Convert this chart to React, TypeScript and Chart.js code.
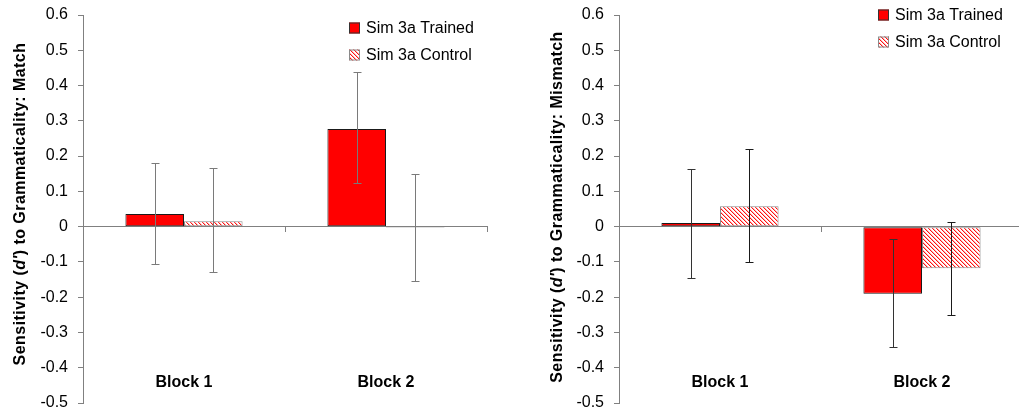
import React, { useEffect, useRef } from 'react';
import { Chart, registerables } from 'chart.js';

Chart.register(...registerables);

// ---------- data ----------
const categories = ['Block 1', 'Block 2'];
const seriesNames = ['Sim 3a Trained', 'Sim 3a Control'];
const yTicks = [-0.5, -0.4, -0.3, -0.2, -0.1, 0, 0.1, 0.2, 0.3, 0.4, 0.5, 0.6];

const matchTrained = [0.036, 0.277];
const matchTrainedHigh = [0.179, 0.437];
const matchTrainedLow = [-0.105, 0.124];
const matchControl = [0.015, -0.003];
const matchControlHigh = [0.166, 0.150];
const matchControlLow = [-0.129, -0.154];

const mismatchTrained = [0.010, -0.190];
const mismatchTrainedHigh = [0.163, -0.036];
const mismatchTrainedLow = [-0.145, -0.342];
const mismatchControl = [0.058, -0.118];
const mismatchControlHigh = [0.220, 0.013];
const mismatchControlLow = [-0.100, -0.250];

const titleMatch = [
  { text: 'Sensitivity (', italic: false },
  { text: "d'", italic: true },
  { text: ') to Grammaticality: Match', italic: false },
];
const titleMismatch = [
  { text: 'Sensitivity (', italic: false },
  { text: "d'", italic: true },
  { text: ') to Grammaticality: Mismatch', italic: false },
];

const FONT = '"Liberation Sans", Arial, sans-serif';

function makeHatch(): CanvasPattern | string {
  const c = document.createElement('canvas');
  c.width = 4;
  c.height = 4;
  const g = c.getContext('2d');
  if (!g) return '#ff9999';
  g.fillStyle = '#ffffff';
  g.fillRect(0, 0, 4, 4);
  for (let i = 0; i < 4; i++) {
    g.fillStyle = '#ff1010';
    g.fillRect(i, i, 1, 1);
    g.fillStyle = '#ffb4b4';
    g.fillRect((i + 1) % 4, i, 1, 1);
  }
  return g.createPattern(c, 'repeat') || '#ff9999';
}

const yTitlePlugin = {
  id: 'yTitleRich',
  afterDraw(chart: any, _args: any, opts: any) {
    if (!opts || !opts.parts) return;
    const ctx = chart.ctx as CanvasRenderingContext2D;
    ctx.save();
    (ctx as any).letterSpacing = opts.spacing || '0px';
    ctx.fillStyle = '#000';
    ctx.textBaseline = 'middle';
    ctx.textAlign = 'left';
    const fontFor = (it: boolean) => `${it ? 'italic ' : ''}bold ${opts.size}px ${FONT}`;
    let total = 0;
    const widths: number[] = [];
    for (const p of opts.parts) {
      ctx.font = fontFor(p.italic);
      const w = ctx.measureText(p.text).width;
      widths.push(w);
      total += w;
    }
    ctx.translate(opts.x, opts.cy);
    ctx.rotate(-Math.PI / 2);
    let x = -total / 2;
    opts.parts.forEach((p: any, i: number) => {
      ctx.font = fontFor(p.italic);
      ctx.fillText(p.text, x, 0);
      x += widths[i];
    });
    ctx.restore();
  },
};

const legendPlugin = {
  id: 'customLegend',
  afterDraw(chart: any, _args: any, opts: any) {
    if (!opts || !opts.items) return;
    const ctx = chart.ctx as CanvasRenderingContext2D;
    ctx.save();
    ctx.font = `16px ${FONT}`;
    ctx.textBaseline = 'middle';
    ctx.textAlign = 'left';
    opts.items.forEach((it: any, i: number) => {
      const cy = opts.y + i * opts.gap;
      const bx = opts.x;
      const s = 11;
      ctx.fillStyle = it.fill;
      ctx.fillRect(bx, cy - s / 2, s, s);
      ctx.strokeStyle = it.border;
      ctx.lineWidth = 1;
      ctx.strokeRect(bx + 0.5, cy - s / 2 + 0.5, s - 1, s - 1);
      ctx.fillStyle = '#000';
      ctx.fillText(it.label, bx + 17, cy + 1);
    });
    ctx.restore();
  },
};

const errorBarPlugin = {
  id: 'errorBars',
  afterDatasetsDraw(chart: any, _args: any, opts: any) {
    if (!opts || !opts.high) return;
    const ctx = chart.ctx as CanvasRenderingContext2D;
    const yScale = chart.scales.y;
    ctx.save();
    ctx.lineWidth = 1;
    chart.data.datasets.forEach((_ds: any, di: number) => {
      const meta = chart.getDatasetMeta(di);
      ctx.strokeStyle = opts.colors[di];
      meta.data.forEach((el: any, j: number) => {
        const x = Math.round(el.x) + 0.5;
        const yh = Math.round(yScale.getPixelForValue(opts.high[di][j])) + 0.5;
        const yl = Math.round(yScale.getPixelForValue(opts.low[di][j])) + 0.5;
        ctx.beginPath();
        ctx.moveTo(x, yh);
        ctx.lineTo(x, yl);
        ctx.moveTo(x - 4, yh);
        ctx.lineTo(x + 4, yh);
        ctx.moveTo(x - 4, yl);
        ctx.lineTo(x + 4, yl);
        ctx.stroke();
      });
    });
    ctx.restore();
  },
};

interface PanelProps {
  trained: number[];
  control: number[];
  high: number[][];
  low: number[][];
  title: { text: string; italic: boolean }[];
  titleX: number;
  titleCy: number;
  legendX: number;
  legendY: number;
  errColors: string[];
}

function Panel(props: PanelProps) {
  const ref = useRef<HTMLCanvasElement | null>(null);
  useEffect(() => {
    if (!ref.current) return;
    const hatch = makeHatch();
    const chart = new Chart(ref.current, {
      type: 'bar',
      data: {
        labels: categories,
        datasets: [
          {
            label: seriesNames[0],
            data: props.trained,
            backgroundColor: '#ff0000',
            borderColor: '#1a1a1a',
            borderWidth: 1,
            borderSkipped: false,
            categoryPercentage: 0.58,
            barPercentage: 1,
          },
          {
            label: seriesNames[1],
            data: props.control,
            backgroundColor: hatch as any,
            borderColor: '#8a8a8a',
            borderWidth: 1,
            borderSkipped: false,
            categoryPercentage: 0.58,
            barPercentage: 1,
          },
        ],
      },
      options: {
        animation: false,
        responsive: false,
        maintainAspectRatio: false,
        events: [],
        layout: { padding: { top: 15, bottom: 9, left: 0, right: 13 } },
        plugins: {
          legend: { display: false },
          tooltip: { enabled: false },
          yTitleRich: { parts: props.title, x: props.titleX, cy: props.titleCy, size: 16, spacing: '0.45px' },
          customLegend: {
            x: props.legendX,
            y: props.legendY,
            gap: 27,
            items: [
              { label: seriesNames[0], fill: '#ff0000', border: '#333333' },
              { label: seriesNames[1], fill: hatch, border: '#8a8a8a' },
            ],
          },
          errorBars: { high: props.high, low: props.low, colors: props.errColors },
        } as any,
        scales: {
          x: {
            type: 'category',
            position: { y: 0 } as any,
            offset: true,
            grid: {
              display: true,
              drawOnChartArea: false,
              tickLength: 5,
              tickColor: '#808080',
              offset: true,
            },
            border: { display: true, color: '#808080', width: 1 },
            ticks: {
              display: true,
              padding: 141,
              color: '#000',
              font: { family: FONT, size: 16, weight: 'bold' },
              maxRotation: 0,
              autoSkip: false,
            },
            afterFit: (s: any) => {
              s.paddingLeft = 0;
              s.paddingRight = 0;
              s.paddingTop = 0;
              s.paddingBottom = 0;
              s.height = 0;
            },
          } as any,
          y: {
            min: -0.5,
            max: 0.6,
            position: 'left',
            afterBuildTicks: (s: any) => {
              s.ticks = yTicks.map((v) => ({ value: v }));
            },
            afterFit: (s: any) => {
              s.width = 83;
              s.paddingTop = 0;
              s.paddingBottom = 0;
            },
            grid: { drawOnChartArea: false, tickLength: 5, tickColor: '#808080' },
            border: { display: true, color: '#808080', width: 1 },
            ticks: {
              padding: 10,
              color: '#000',
              font: { family: FONT, size: 16 },
              callback: (v: any) => (Math.abs(Number(v)) < 1e-9 ? '0' : Number(v).toFixed(1)),
            },
          },
        },
      },
      plugins: [yTitlePlugin, legendPlugin, errorBarPlugin],
    });
    return () => chart.destroy();
  }, []);
  return <canvas ref={ref} width={500} height={412} style={{ display: 'block', width: 500, height: 412 }} />;
}

export default function App() {
  return (
    <div
      style={{
        position: 'fixed',
        left: 0,
        top: 0,
        width: 1019,
        height: 412,
        overflow: 'hidden',
        background: '#ffffff',
      }}
    >
      <div style={{ position: 'absolute', left: 0, top: 0 }}>
        <Panel
          trained={matchTrained}
          control={matchControl}
          high={[matchTrainedHigh, matchControlHigh]}
          low={[matchTrainedLow, matchControlLow]}
          title={titleMatch}
          titleX={21}
          titleCy={204}
          legendX={349}
          legendY={28}
          errColors={['#7a7a7a', '#7a7a7a']}
        />
      </div>
      <div style={{ position: 'absolute', left: 536, top: 0 }}>
        <Panel
          trained={mismatchTrained}
          control={mismatchControl}
          high={[mismatchTrainedHigh, mismatchControlHigh]}
          low={[mismatchTrainedLow, mismatchControlLow]}
          title={titleMismatch}
          titleX={22}
          titleCy={207}
          legendX={342}
          legendY={15}
          errColors={['#333333', '#1a1a1a']}
        />
      </div>
    </div>
  );
}
